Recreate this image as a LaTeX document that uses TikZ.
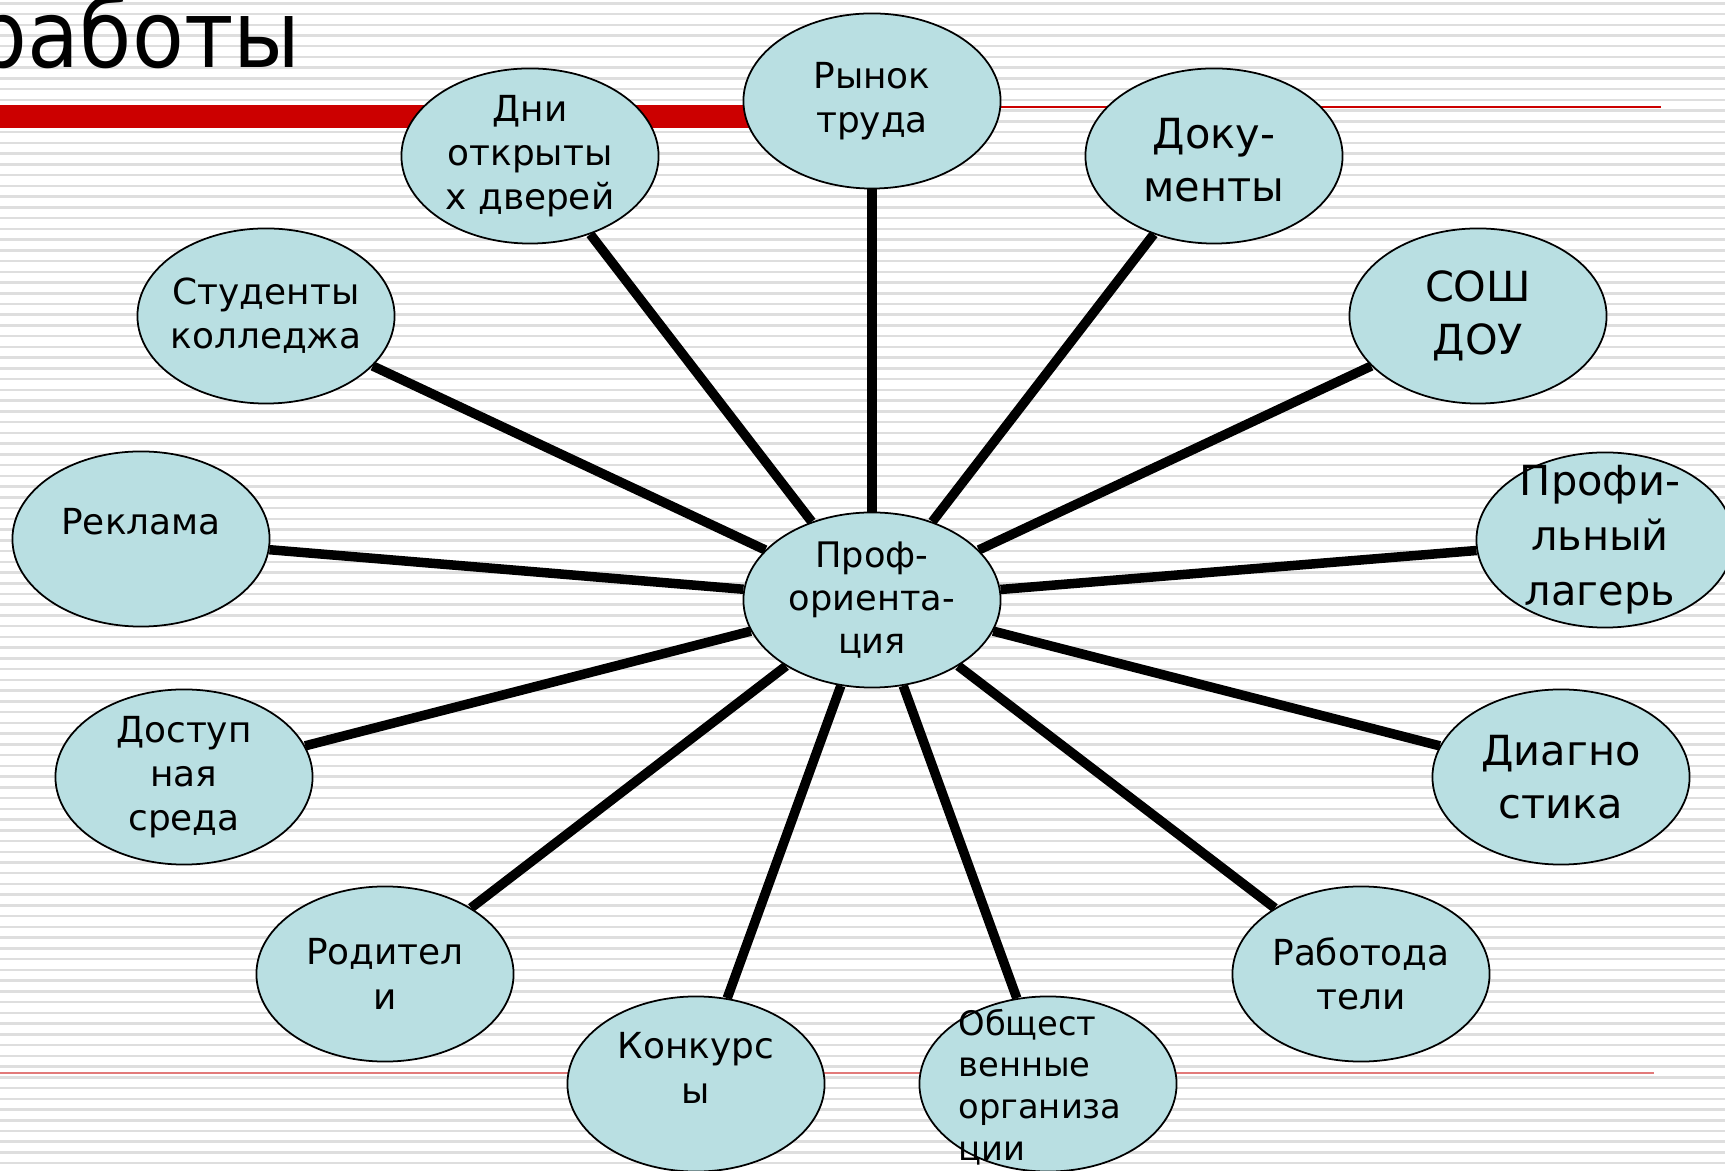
\documentclass[tikz,border=0pt]{standalone}
\usepackage{fontspec}
\setmainfont{DejaVu Sans}
\usepackage{xcolor}
\usepackage{tikz}
\usetikzlibrary{shapes.geometric}
\usetikzlibrary{positioning}
\usetikzlibrary{backgrounds}
\definecolor{bubblefill}{RGB}{185,223,226}
\definecolor{stripe}{RGB}{222,222,222}
\definecolor{titlered}{RGB}{204,0,0}
\definecolor{footred}{RGB}{226,122,122}

\begin{document}
\begin{tikzpicture}[x=0.01cm,y=-0.01cm,
	bubble/.style={ellipse,draw,line width=0.5pt,fill=bubblefill,minimum width=2.57cm,minimum height=1.75cm,inner sep=0pt},
	txt/.style={align=center,inner sep=0pt,font=\fontsize{10.2}{12.6}\selectfont},
	big/.style={align=center,inner sep=0pt,font=\fontsize{11.8}{15}\selectfont},
	spoke/.style={line width=0.095cm}]
		\useasboundingbox (0,0) rectangle (1725,1171);
		\clip (0,0) rectangle (1725,1171);

		% title
		\node[anchor=base east,inner sep=0pt,font=\fontsize{26.5}{30}\selectfont] (title) at (301,68) {\scalebox{0.91}[1]{работы}};

		% centre
		\node[bubble,label={[txt,font=\fontsize{10}{12.2}\selectfont]center:Проф-\\ориента-\\ция}] (prof) at (872,600) {};

		% upper half
		\node[bubble,label={[txt]center:Рынок\\труда}] (rynok) at (872,101) {};
		\node[bubble,label={[txt]center:Дни\\открыты\\х дверей}] (dni) at (530,156) {};
		\node[bubble,label={[big,yshift=-0.04cm]center:Доку-\\менты}] (doc) at (1214,156) {};
		\node[bubble,label={[txt]center:Студенты\\колледжа}] (stud) at (266,316) {};
		\node[bubble,label={[big]center:СОШ\\ДОУ}] (sosh) at (1478,316) {};
		\node[bubble,label={[txt,yshift=0.17cm]center:Реклама}] (rekl) at (141,539) {};
		\node[bubble,label={[big,font=\fontsize{11.8}{15.6}\selectfont,xshift=-0.05cm]center:Профи-\\льный\\лагерь}] (lager) at (1605,540) {};

		% lower half
		\node[bubble,label={[txt]center:Доступ\\ная\\среда}] (dost) at (184,777) {};
		\node[bubble,label={[big]center:Диагно\\стика}] (diag) at (1561,777) {};
		\node[bubble,label={[txt]center:Родител\\и}] (rod) at (385,974) {};
		\node[bubble,label={[txt]center:Работода\\тели}] (rab) at (1361,974) {};
		\node[bubble,label={[txt,yshift=0.16cm]center:Конкурс\\ы}] (konk) at (696,1084) {};
		\node[bubble,label={[txt,align=left,font=\fontsize{9.6}{11.9}\selectfont,xshift=-0.08cm,yshift=-0.03cm]center:Общест\\венные\\организа\\ции}] (obsh) at (1048,1084) {};

		\begin{pgfonlayer}{background}
		% slide background
		\fill[white] (0,0) rectangle (1725,1171);
		\foreach \k in {0,...,108}
			\draw[stripe,line width=0.025cm] (0,3.3+10.74*\k) -- (1725,3.3+10.74*\k);
		\fill[titlered] (0,105) rectangle (870,128);
		\draw[titlered,line width=0.02cm] (870,107) -- (1661,107);
		\draw[footred,line width=0.022cm] (0,1073) -- (1654,1073);

		% spokes
		\draw[spoke] (prof) -- (rynok);
		\draw[spoke] (prof) -- (dni);
		\draw[spoke] (prof) -- (doc);
		\draw[spoke] (prof) -- (stud);
		\draw[spoke] (prof) -- (sosh);
		\draw[spoke] (prof) -- (rekl);
		\draw[spoke] (prof) -- (lager);
		\draw[spoke] (prof) -- (dost);
		\draw[spoke] (prof) -- (diag);
		\draw[spoke] (prof) -- (rod);
		\draw[spoke] (prof) -- (rab);
		\draw[spoke] (prof) -- (konk);
		\draw[spoke] (prof) -- (obsh);
		\end{pgfonlayer}
\end{tikzpicture}
\end{document}
